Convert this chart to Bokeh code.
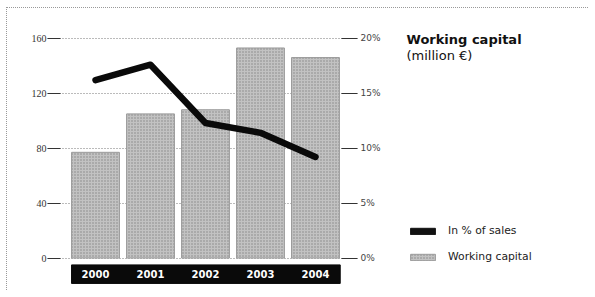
from bokeh.plotting import figure
from bokeh.layouts import row
from bokeh.models import Range1d, LinearAxis, FixedTicker, Label, Legend, LegendItem, ColumnDataSource
from bokeh.embed import file_html
from bokeh.resources import INLINE
from bokeh.core.properties import value

# ---- data ----
years = [2000, 2001, 2002, 2003, 2004]
year_labels = ["2000", "2001", "2002", "2003", "2004"]
working_capital = [77, 105, 108, 153, 146]          # million EUR (left axis)
pct_of_sales = [16.2, 17.6, 12.3, 11.4, 9.2]         # % of sales (right axis)
left_ticks = [0, 40, 80, 120, 160]
left_labels = ["0", "40", "80", "120", "160"]
right_ticks = [0, 5, 10, 15, 20]
right_labels = ["0%", "5%", "10%", "15%", "20%"]

BAR_FILL = "#c2c2c2"
BAR_HATCH = "#7e7e7e"

# ---- main chart ----
p = figure(width=383, height=282,
           x_range=Range1d(years[0] - 0.873, years[-1] + 0.764),
           y_range=Range1d(-20, 165),
           min_border_left=40, min_border_right=33, min_border_top=23, min_border_bottom=5,
           x_axis_location=None, y_axis_location="left",
           output_backend="svg", toolbar_location=None)
p.outline_line_color = None
p.background_fill_color = "white"
p.xgrid.visible = False

p.yaxis.ticker = FixedTicker(ticks=left_ticks)
p.yaxis.major_label_overrides = dict(zip(left_ticks, left_labels))
p.yaxis.axis_line_color = None
p.yaxis.major_tick_out = 0
p.yaxis.major_tick_in = 13
p.yaxis.major_tick_line_color = "#333333"
p.yaxis.minor_tick_line_color = None
p.yaxis.major_label_standoff = 1
p.yaxis.major_label_text_font = "Liberation Serif"
p.yaxis.major_label_text_font_size = "10px"
p.yaxis.major_label_text_color = "#333333"

p.ygrid.ticker = FixedTicker(ticks=left_ticks)
p.ygrid.grid_line_color = "#777777"
p.ygrid.grid_line_dash = "1 2"
p.ygrid.grid_line_width = 1

p.extra_y_ranges = {"pct": Range1d(-20 / 8.0, 165 / 8.0)}
raxis = LinearAxis(y_range_name="pct", ticker=FixedTicker(ticks=right_ticks),
                   major_label_overrides=dict(zip(right_ticks, right_labels)))
raxis.axis_line_color = None
raxis.major_tick_out = 0
raxis.major_tick_in = 16
raxis.major_tick_line_color = "#333333"
raxis.minor_tick_line_color = None
raxis.major_label_standoff = 3
raxis.major_label_text_font = "DejaVu Sans"
raxis.major_label_text_font_size = "9px"
raxis.major_label_text_color = "#444444"
p.add_layout(raxis, "right")

src = ColumnDataSource(dict(x=years, wc=working_capital, pct=pct_of_sales, lab=year_labels,
                            ylab=[-11.8] * len(years)))

p.vbar(x="x", top="wc", bottom=0, width=0.87, source=src,
       fill_color=BAR_FILL, line_color="#9a9a9a", line_width=1,
       hatch_pattern="dot", hatch_color=BAR_HATCH, hatch_scale=3, hatch_weight=1, hatch_alpha=0.9)

# year band
p.quad(left=[years[0] - 0.436], right=[years[-1] + 0.45], bottom=[-18.5], top=[-5],
       fill_color="#0a0a0a", line_color="#0a0a0a")
p.text(x="x", y="ylab", text="lab", source=src, text_color="white",
       text_font=value("DejaVu Sans"), text_font_size="10px", text_font_style="bold",
       text_align="center", text_baseline="middle")

p.line(x="x", y="pct", source=src, y_range_name="pct", line_color="#0a0a0a",
       line_width=6.5, line_join="round", line_cap="round")

# ---- title + legend panel (frame aligned with the main chart's frame) ----
p2 = figure(width=198, height=282, x_range=Range1d(0, 198), y_range=Range1d(5, 259),
            min_border_left=0, min_border_right=0, min_border_top=23, min_border_bottom=5,
            x_axis_location=None, y_axis_location=None,
            output_backend="svg", toolbar_location=None)
p2.outline_line_color = None
p2.xgrid.visible = False
p2.ygrid.visible = False

p2.add_layout(Label(x=16, y=251, text="Working capital", text_font="DejaVu Sans",
                    text_font_size="13px", text_font_style="bold", text_color="#111111",
                    text_baseline="alphabetic"))
p2.add_layout(Label(x=16, y=235, text="(million €)", text_font="DejaVu Sans",
                    text_font_size="13px", text_color="#111111",
                    text_baseline="alphabetic"))

# legend proxies (placed outside the visible range)
r1 = p2.quad(left=[-50], right=[-40], top=[-40], bottom=[-50], fill_color="#111111", line_color="#111111")
r2 = p2.quad(left=[-50], right=[-40], top=[-40], bottom=[-50], fill_color=BAR_FILL, line_color="#9a9a9a",
             hatch_pattern="dot", hatch_color=BAR_HATCH, hatch_scale=3, hatch_weight=1, hatch_alpha=0.9)
legend = Legend(items=[LegendItem(label="In % of sales", renderers=[r1]),
                       LegendItem(label="Working capital", renderers=[r2])],
                location=(17, 22), padding=0, margin=0, spacing=13,
                glyph_width=31, glyph_height=8, label_height=12, label_standoff=10,
                label_text_font="DejaVu Sans", label_text_font_size="10.8px",
                label_text_color="#222222", border_line_color=None,
                background_fill_alpha=0)
p2.add_layout(legend)

layout = row(p, p2, styles={"margin-left": "6px", "margin-top": "7px",
                            "border-left": "1px dotted #999999",
                            "border-top": "1px dotted #999999"})
open("out.html", "w").write(file_html(layout, INLINE))
